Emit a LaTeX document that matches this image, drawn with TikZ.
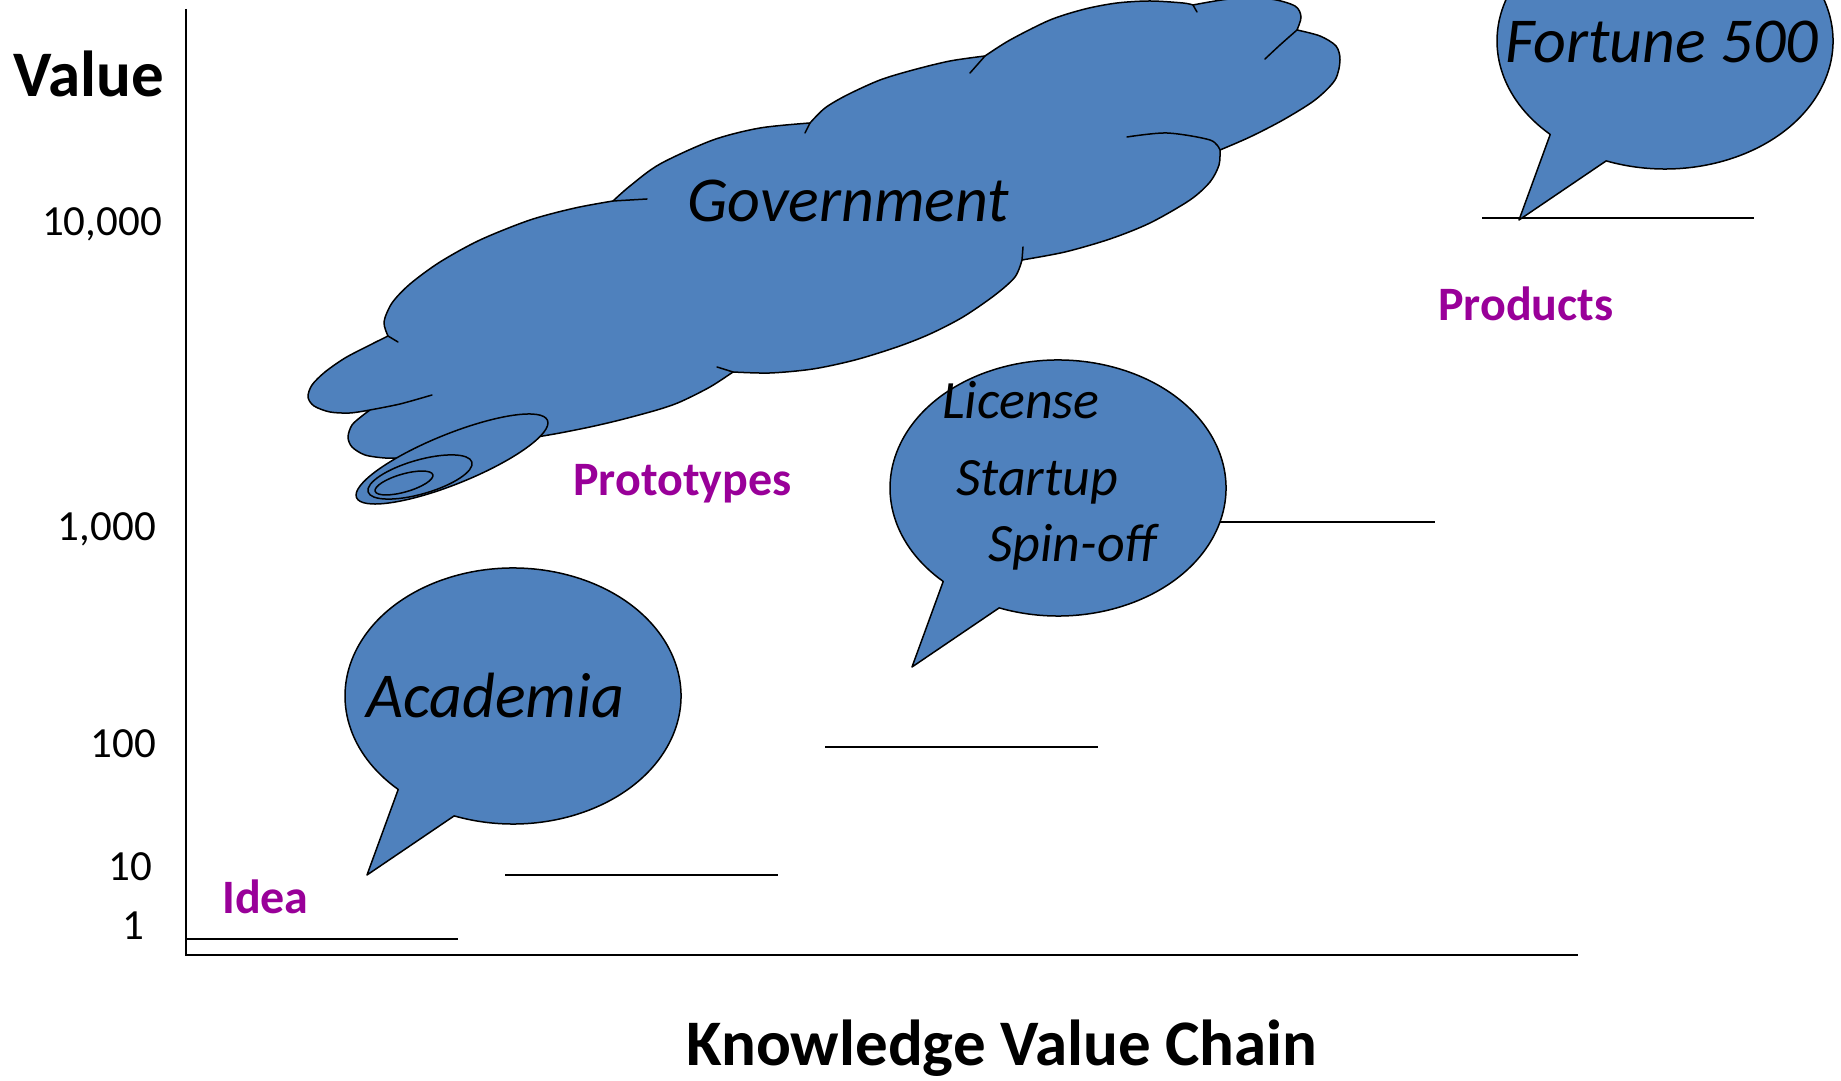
\documentclass[tikz,border=0pt]{standalone}
\usepackage{fontspec}
\setmainfont{Carlito}
\definecolor{kvblue}{HTML}{4F81BD}
\definecolor{stagepurple}{HTML}{990099}
\tikzset{
  bubble/.style={fill=kvblue, draw=black, line width=1.5pt, line join=round},
  foldline/.style={draw=black, line width=1.5pt, line cap=round},
  axisline/.style={draw=black, line width=2.2pt, line join=miter},
  level/.style={draw=black, line width=1.8pt},
  ticklabel/.style={font=\fontsize{43}{50}\selectfont, anchor=base east, inner sep=0pt},
  stage/.style={font=\bfseries\fontsize{48}{57}\selectfont, text=stagepurple, anchor=base west, inner sep=0pt},
  saybig/.style={font=\itshape\fontsize{64}{77}\selectfont, anchor=base west, inner sep=0pt},
  saysmall/.style={font=\itshape\fontsize{54}{64}\selectfont, anchor=base west, inner sep=0pt},
  axistitle/.style={font=\bfseries\fontsize{65}{78}\selectfont, inner sep=0pt},
  speech/.pic={
    \path[bubble] (-146,-179) -- (249.5:168 and 128)
      arc[start angle=249.5, end angle=586.9, x radius=168, y radius=128] -- cycle;
  }
}
\begin{document}
\begin{tikzpicture}[x=1pt, y=1pt]
\clip (0,0) rectangle (1841,1081);
\fill[white] (0,0) rectangle (1841,1081);

% axes
\draw[axisline] (186,1072) -- (186,126) -- (1578,126);

% value levels
\draw[level] (186,142) -- (458,142);
\draw[level] (505,206) -- (778,206);
\draw[level] (825,334) -- (1098,334);
\draw[level] (1162,559) -- (1435,559);
\draw[level] (1482,863) -- (1754,863);

% axis labels and ticks
\node[axistitle, anchor=base west] (yaxis) at (13,984) {Value};
\node[axistitle, anchor=base] (xaxis) at (1002,16) {Knowledge Value Chain};
\node[ticklabel] (t4) at (162,845) {10,000};
\node[ticklabel] (t3) at (156,540) {1,000};
\node[ticklabel] (t2) at (156,323) {100};
\node[ticklabel] (t1) at (152,200) {10};
\node[ticklabel] (t0) at (144,141) {1};

% government cloud, lobe by lobe
\path[bubble]
  plot[smooth] coordinates {(405,623) (385,623) (365,626) (352,634) (348,644) (352,656) (362,665) (370,671)}
  -- plot[smooth] coordinates {(370,671) (350,668) (330,669) (314,675) (308,684) (312,696) (325,709) (345,723) (368,735) (388,745)}
  -- plot[smooth] coordinates {(388,745) (384,759) (392,778) (410,797) (440,819) (480,841) (530,861) (575,873) (613,880)}
  -- plot[smooth] coordinates {(613,880) (630,895) (660,917) (713,941) (760,953) (810,958)}
  -- plot[smooth] coordinates {(810,958) (825,973) (847,986) (880,1001) (913,1011) (950,1020) (985,1025)}
  -- plot[smooth] coordinates {(985,1025) (1010,1041) (1050,1061) (1085,1072) (1117,1078) (1150,1080) (1183,1078) (1193,1076)}
  -- plot[smooth] coordinates {(1193,1076) (1230,1082) (1270,1082) (1295,1075) (1301,1064) (1297,1051)}
  -- plot[smooth] coordinates {(1297,1051) (1320,1045) (1336,1035) (1340,1021) (1335,1001) (1315,981) (1283,961) (1250,944) (1220,931)}
  -- plot[smooth] coordinates {(1220,931) (1219,916) (1210,899) (1190,881) (1150,858) (1110,842) (1065,829) (1022,821)}
  -- plot[smooth] coordinates {(1022,821) (1015,804) (995,786) (963,764) (930,747) (897,734) (855,721) (813,712) (770,708) (733,709)}
  -- plot[smooth] coordinates {(733,709) (710,694) (680,679) (657,671) (620,661) (590,654) (560,648) (537,644)}
  -- (470,628) -- (420,610) -- cycle;

% folds between the cloud lobes
\draw[foldline] plot[smooth] coordinates {(370,671) (400,677) (432,686)};
\draw[foldline] plot[smooth] coordinates {(388,745) (398,739)};
\draw[foldline] plot[smooth] coordinates {(613,880) (647,882)};
\draw[foldline] plot[smooth] coordinates {(810,958) (805,948)};
\draw[foldline] plot[smooth] coordinates {(985,1025) (970,1008)};
\draw[foldline] plot[smooth] coordinates {(1193,1076) (1197,1069)};
\draw[foldline] plot[smooth] coordinates {(1297,1051) (1280,1036) (1265,1022)};
\draw[foldline] plot[smooth] coordinates {(1220,931) (1210,941) (1167,948) (1127,944)};
\draw[foldline] plot[smooth] coordinates {(1022,821) (1023,834)};
\draw[foldline] plot[smooth] coordinates {(733,709) (717,714)};

% thought trail of the cloud
\path[bubble, rotate around={22:(452,622)}] (452,622) ellipse [x radius=103, y radius=25];
\path[bubble, rotate around={16:(420,604)}] (420,604) ellipse [x radius=54, y radius=17];
\path[bubble, rotate around={16:(404,598)}] (404,598) ellipse [x radius=30, y radius=9];

\node[saybig] (gov) at (687,859) {Government};

% speech bubbles
\pic (acad) at (513,385) {speech};
\pic (lic) at (1058,593) {speech};
\pic (fortune) at (1665,1040) {speech};

\node[saybig] (academia) at (366,363) {Academia};
\node[saybig] (f500) at (1505,1018) {Fortune 500};
\node[saysmall] (license) at (942,662) {License};
\node[saysmall] (startup) at (956,585) {Startup};
\node[saysmall] (spinoff) at (988,519) {Spin-off};

% stages
\node[stage] (idea) at (222,167) {Idea};
\node[stage] (proto) at (573,585) {Prototypes};
\node[stage] (prod) at (1438,760) {Products};
\end{tikzpicture}
\end{document}
